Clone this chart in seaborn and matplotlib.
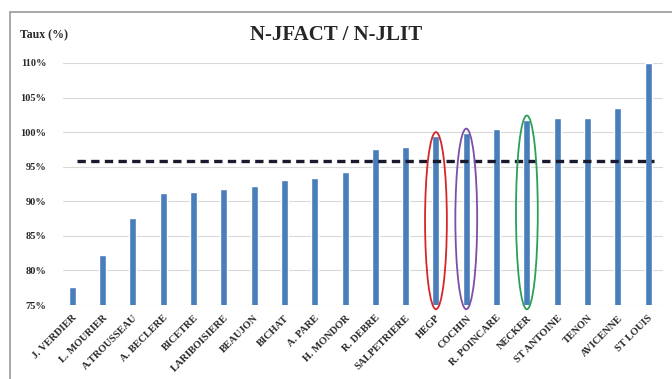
import matplotlib
matplotlib.use("Agg")
import matplotlib.pyplot as plt
from matplotlib.patches import Ellipse, Rectangle
import seaborn as sns
import pandas as pd

hospitals = ["J. VERDIER", "L. MOURIER", "A.TROUSSEAU", "A. BECLERE", "BICETRE",
             "LARIBOISIERE", "BEAUJON", "BICHAT", "A. PARE", "H. MONDOR",
             "R. DEBRE", "SALPETRIERE", "HEGP", "COCHIN", "R. POINCARE",
             "NECKER", "ST ANTOINE", "TENON", "AVICENNE", "ST LOUIS"]
taux = [77.6, 82.2, 87.6, 91.2, 91.4, 91.8, 92.2, 93.1, 93.3, 94.3,
        97.6, 97.8, 99.4, 99.9, 100.4, 101.8, 102.0, 102.1, 103.5, 110.0]
reference = 95.8
yticks = [75, 80, 85, 90, 95, 100, 105, 110]
highlight = {"HEGP": "#d62728", "COCHIN": "#7b4fa8", "NECKER": "#2ca05a"}

df = pd.DataFrame({"hopital": hospitals, "taux": taux})

sns.set_style("white")
plt.rcParams["font.family"] = ["Liberation Serif", "DejaVu Serif"]

fig = plt.figure(figsize=(6.72, 3.79), dpi=100)
ax = fig.add_axes([0.094, 0.195, 0.893, 0.639])

sns.barplot(data=df, x="hopital", y="taux", color="#4a7ebb", width=0.23,
            saturation=1, ax=ax, zorder=3)

ax.set_ylim(75, 110)
ax.set_xlim(-0.3, len(hospitals) - 0.5)
ax.set_yticks(yticks)
ax.set_yticklabels([f"{v}%" for v in yticks], fontsize=7.5, fontweight="bold", color="#2a2a2a")
ax.set_xticks(range(len(hospitals)))
ax.set_xticklabels(hospitals, rotation=45, ha="right", rotation_mode="anchor",
                   fontsize=7.5, fontweight="bold", color="#2a2a2a")
ax.tick_params(axis="y", length=0, pad=12)
ax.tick_params(axis="x", length=0, pad=6)
ax.yaxis.grid(True, color="#d9d9d9", linewidth=0.8, zorder=0)
ax.set_xlabel("")
ax.set_ylabel("")
for s in ax.spines.values():
    s.set_visible(False)

ax.hlines(reference, 0.15, len(hospitals) - 0.8, color="#1a1a2e",
          linestyles=[(0, (2.5, 1.6))], linewidth=2.4, zorder=4)

for name, col in highlight.items():
    i = hospitals.index(name)
    top = taux[i] + 0.6
    bottom = 74.4
    e = Ellipse((i, (top + bottom) / 2), width=0.72, height=top - bottom,
                fill=False, edgecolor=col, linewidth=1.3, zorder=5, clip_on=False)
    ax.add_patch(e)

fig.text(0.5, 0.908, "N-JFACT / N-JLIT", ha="center", va="center",
         fontsize=15, fontweight="bold")
fig.text(0.03, 0.908, "Taux (%)", ha="left", va="center", fontsize=8.5,
         fontweight="bold", color="#2a2a2a")

fig.patches.append(Rectangle((10 / 672, -0.01), 1.0, 1 - 12 / 379 + 0.01,
                             transform=fig.transFigure, fill=False,
                             edgecolor="#9a9a9a", linewidth=1.2))

fig.savefig("out.png", dpi=100)
